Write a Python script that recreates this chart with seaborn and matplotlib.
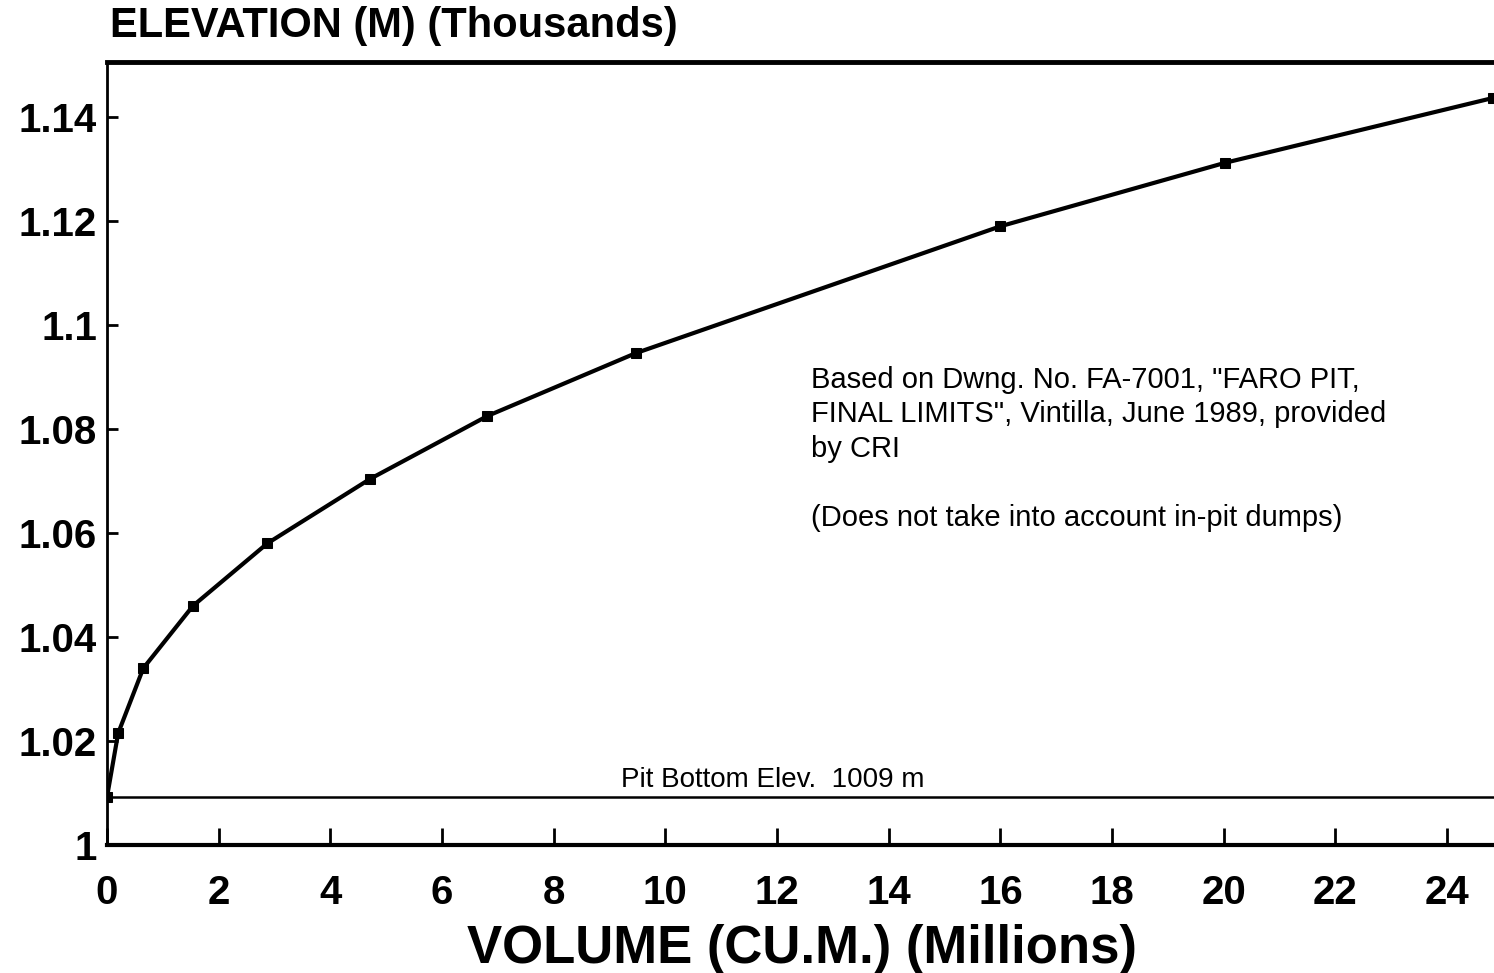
import numpy as np
import pandas as pd
import matplotlib
matplotlib.use('Agg')
import matplotlib.pyplot as plt
import seaborn as sns

## pit volume vs elevation
volume = [0.0, 0.2, 0.65, 1.54, 2.87, 4.71, 6.81, 9.47, 16.0, 20.02, 24.83]      # millions cu.m.
elevation = [1.0092, 1.0215, 1.034, 1.046, 1.058, 1.0704, 1.0825, 1.0946, 1.119, 1.1312, 1.1437]  # thousands m
pit_bottom = 1.0092
xticks = list(range(0, 25, 2))
yticks = [1.0, 1.02, 1.04, 1.06, 1.08, 1.1, 1.12, 1.14]
ytick_labels = ['1', '1.02', '1.04', '1.06', '1.08', '1.1', '1.12', '1.14']

sns.set_style('white')
plt.rcParams['font.family'] = ['Liberation Sans', 'DejaVu Sans']
plt.rcParams['text.color'] = 'black'
plt.rcParams['xtick.color'] = 'black'
plt.rcParams['ytick.color'] = 'black'

df = pd.DataFrame({'volume': volume, 'elevation': elevation})

fig = plt.figure(figsize=(14.94, 9.73), dpi=100)
ax = fig.add_axes([0.0716, 0.1315, 0.9284, 0.8048])

sns.lineplot(data=df, x='volume', y='elevation', ax=ax, color='black',
             linewidth=3, marker='s', markersize=7, markeredgecolor='black')

ax.axhline(pit_bottom, color='black', linewidth=1.8)

ax.set_xlim(0, 24.84)
ax.set_ylim(1.0, 1.1506)
ax.set_xticks(xticks)
ax.set_xticklabels([str(t) for t in xticks])
ax.set_yticks(yticks)
ax.set_yticklabels(ytick_labels)
ax.set_xlabel('')
ax.set_ylabel('')

ax.tick_params(axis='x', bottom=True, direction='in', length=12, width=2, pad=21,
               labelsize=29, color='black', labelcolor='black')
ax.tick_params(axis='y', left=True, direction='in', length=8, width=2, pad=7,
               labelsize=29, color='black', labelcolor='black')
for lab in ax.get_xticklabels() + ax.get_yticklabels():
    lab.set_fontweight('bold')

for side in ['left', 'bottom', 'top']:
    ax.spines[side].set_color('black')
ax.spines['left'].set_linewidth(2)
ax.spines['bottom'].set_linewidth(3)
ax.spines['top'].set_linewidth(3.5)
ax.spines['right'].set_visible(False)

## handwritten-style notes
ax.text(9.2, pit_bottom + 0.0008, 'Pit Bottom Elev.  1009 m', fontsize=20,
        va='bottom', ha='left')
ax.text(12.6, 1.0922,
        'Based on Dwng. No. FA-7001, "FARO PIT,\n'
        'FINAL LIMITS", Vintilla, June 1989, provided\n'
        'by CRI\n\n'
        '(Does not take into account in-pit dumps)',
        fontsize=21, va='top', ha='left', linespacing=1.3)

fig.text(0.0736, 0.962, 'ELEVATION (M) (Thousands)', fontsize=30,
         fontweight='bold', va='baseline', ha='left')
fig.text(0.537, 0.01, 'VOLUME (CU.M.) (Millions)', fontsize=38,
         fontweight='bold', va='baseline', ha='center')

fig.savefig('out.png', dpi=100)
